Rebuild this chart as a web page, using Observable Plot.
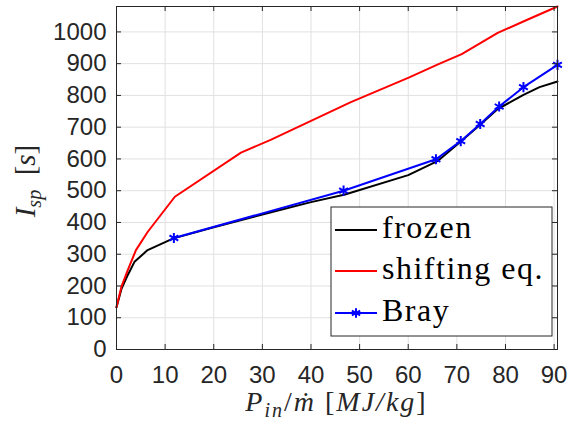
<!DOCTYPE html>
<html>
<head>
<meta charset="utf-8">
<script src="https://cdn.jsdelivr.net/npm/d3@7"></script>
<script src="https://cdn.jsdelivr.net/npm/@observablehq/plot@0.6"></script>
<style>
  body { margin: 0; background: #fff; }
  #chart svg { display: block; }
</style>
</head>
<body>
<div id="chart"></div>
<script>
// ---- data ----
const seriesNames = ["frozen", "shifting eq.", "Bray"];
const seriesColors = ["#000000", "#ff0000", "#0000ff"];

const frozenX = [0, 1, 2.3, 3.7, 6.4, 11.7, 20, 30, 40, 47, 60, 66, 70.8, 74.8, 78.4, 83.7, 87, 90.7];
const frozenY = [133, 190, 234, 276, 313, 350, 385, 425, 464, 488, 549, 593, 655, 708, 757, 802, 826, 844];

const shiftingX = [0, 1, 2.3, 4, 6.4, 12, 25.6, 31.7, 48.2, 60.1, 66, 71, 78.4, 84.6, 90.7];
const shiftingY = [133, 197, 249, 313, 370, 481, 620, 660, 779, 856, 897, 930, 997, 1039, 1080];

const brayX = [11.8, 46.7, 65.7, 70.8, 74.8, 78.7, 83.7, 90.7];
const brayY = [351, 500, 599, 656, 710, 765, 826, 896];

const xTicks = [0, 10, 20, 30, 40, 50, 60, 70, 80, 90];
const yTicks = [0, 100, 200, 300, 400, 500, 600, 700, 800, 900, 1000];
const xDomain = [0, 90.7];
const yDomain = [0, 1080];

// ---- layout ----
const W = 570, H = 427;
const mL = 116, mR = 13, mT = 6, mB = 78;
const innerW = W - mL - mR, innerH = H - mT - mB;
const tickLen = 5;
const axisColor = "#262626";
const gridColor = "#e1e1e1";

const rows = (xs, ys) => xs.map((x, i) => ({x, y: ys[i]}));
const frozen = rows(frozenX, frozenY);
const shifting = rows(shiftingX, shiftingY);
const bray = rows(brayX, brayY);

const svg = Plot.plot({
  width: W, height: H,
  marginLeft: mL, marginRight: mR, marginTop: mT, marginBottom: mB,
  style: {background: "#fff", fontFamily: "'Liberation Sans', Arial, Helvetica, sans-serif", color: axisColor, overflow: "visible"},
  x: {domain: xDomain},
  y: {domain: yDomain},
  marks: [
    Plot.gridX({ticks: xTicks, stroke: gridColor, strokeOpacity: 1}),
    Plot.gridY({ticks: yTicks, stroke: gridColor, strokeOpacity: 1}),
    Plot.line(frozen, {x: "x", y: "y", stroke: seriesColors[0], strokeWidth: 2}),
    Plot.line(shifting, {x: "x", y: "y", stroke: seriesColors[1], strokeWidth: 2}),
    Plot.line(bray, {x: "x", y: "y", stroke: seriesColors[2], strokeWidth: 2}),
    Plot.dot(bray, {x: "x", y: "y", symbol: "asterisk", r: 4.8, stroke: seriesColors[2], strokeWidth: 2}),
    // inward tick marks on all four sides
    Plot.tickX(xTicks, {x: d => d, insetTop: innerH - tickLen, stroke: axisColor}),
    Plot.tickX(xTicks, {x: d => d, insetBottom: innerH - tickLen, stroke: axisColor}),
    Plot.tickY(yTicks, {y: d => d, insetRight: innerW - tickLen, stroke: axisColor}),
    Plot.tickY(yTicks, {y: d => d, insetLeft: innerW - tickLen, stroke: axisColor}),
    Plot.frame({stroke: axisColor}),
    Plot.axisX({ticks: xTicks, tickSize: 0, tickPadding: 16, fontSize: 24, label: null, tickFormat: d => String(d)}),
    Plot.axisY({ticks: yTicks, tickSize: 0, tickPadding: 10, fontSize: 24, label: null, tickFormat: d => String(d)})
  ]
});
document.getElementById("chart").appendChild(svg);

const s = d3.select(svg);
const serif = "'Liberation Serif', 'Times New Roman', serif";

// x-axis label: P_in / m-dot [MJ/kg]
const xl = s.append("text")
  .attr("x", mL + innerW / 2).attr("y", 411)
  .attr("text-anchor", "middle")
  .attr("letter-spacing", 2)
  .attr("font-family", serif).attr("font-size", 28).attr("fill", axisColor);
xl.append("tspan").attr("font-style", "italic").text("P");
xl.append("tspan").attr("font-style", "italic").attr("font-size", 20).attr("dy", 6).text("in");
xl.append("tspan").attr("dy", -6).text("/");
xl.append("tspan").attr("font-style", "italic").text("\u1E41");
xl.append("tspan").text(" [");
xl.append("tspan").attr("font-style", "italic").text("MJ/kg");
xl.append("tspan").text("]");

// y-axis label: I_sp [s]
const yl = s.append("text")
  .attr("transform", "translate(35,181) rotate(-90)")
  .attr("text-anchor", "middle")
  .attr("font-family", serif).attr("font-size", 29).attr("fill", axisColor);
yl.append("tspan").attr("font-style", "italic").text("I");
yl.append("tspan").attr("font-style", "italic").attr("font-size", 20).attr("dy", 6).text("sp");
yl.append("tspan").attr("dy", -6).text("  [");
yl.append("tspan").attr("font-style", "italic").text("s");
yl.append("tspan").text("]");

// legend box
const lg = s.append("g");
lg.append("rect").attr("x", 331).attr("y", 207).attr("width", 221).attr("height", 129)
  .attr("fill", "#fff").attr("stroke", axisColor).attr("stroke-width", 1);
const rowY = [230, 271, 313];
seriesNames.forEach((name, i) => {
  lg.append("line").attr("x1", 335).attr("x2", 377).attr("y1", rowY[i]).attr("y2", rowY[i])
    .attr("stroke", seriesColors[i]).attr("stroke-width", 2);
  if (i === 2) {
    lg.append("path")
      .attr("d", d3.symbol(d3.symbolAsterisk, Math.PI * 4.5 * 4.5)())
      .attr("transform", `translate(356,${rowY[i]})`)
      .attr("fill", "none").attr("stroke", seriesColors[i]).attr("stroke-width", 2);
  }
  lg.append("text").attr("x", 382).attr("y", rowY[i] + 8)
    .attr("text-anchor", "start")
    .attr("font-family", serif).attr("font-size", 32).attr("letter-spacing", 1.5)
    .attr("fill", "#000").text(name);
});
</script>
</body>
</html>
